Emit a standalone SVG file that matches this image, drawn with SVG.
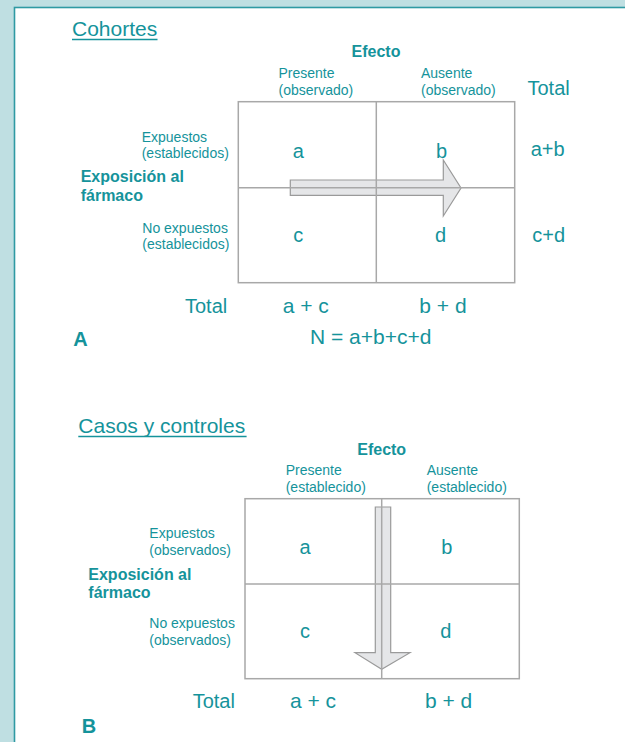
<svg xmlns="http://www.w3.org/2000/svg" width="625" height="742" viewBox="0 0 625 742">
<style>
text{font-family:"Liberation Sans",Arial,sans-serif;fill:#15939b}
.t{font-size:21px}
.s{font-size:14px}
.b{font-weight:bold;font-size:16px}
.v{font-size:20px}
.m{text-anchor:middle}
.grid{fill:none;stroke:#a8a8a8;stroke-width:1.5}
.arr{fill:#e5e6e8;stroke:#9a9a9a;stroke-width:1.2}
.ul{stroke:#15939b;stroke-width:1.3}
</style>
<rect x="0" y="0" width="625" height="742" fill="#bfdfe2"/>
<rect x="14.5" y="7.5" width="620" height="740" fill="#ffffff" stroke="#2f9aa3" stroke-width="1.6"/>

<g id="panelA">
  <g id="titleA">
    <text class="t" x="72" y="36">Cohortes</text>
    <line class="ul" x1="72" y1="39.5" x2="157.5" y2="39.5"/>
  </g>
  <g id="headerA">
    <text class="b m" x="376" y="57">Efecto</text>
    <text class="s" x="278.5" y="77.5">Presente</text>
    <text class="s" x="278.5" y="94.5">(observado)</text>
    <text class="s" x="421" y="77.5">Ausente</text>
    <text class="s" x="421" y="94.5">(observado)</text>
    <text class="v" x="527.5" y="95">Total</text>
  </g>
  <g id="rowsA">
    <text class="s" x="141.7" y="141.5">Expuestos</text>
    <text class="s" x="141.7" y="157.5">(establecidos)</text>
    <text class="b" x="80.7" y="182.3">Exposición al</text>
    <text class="b" x="80.7" y="201">fármaco</text>
    <text class="s" x="142.3" y="232.5">No expuestos</text>
    <text class="s" x="142.3" y="248.5">(establecidos)</text>
  </g>
  <g id="arrowA">
    <path class="arr" d="M290.3,180 H443.3 V160 L461,188 L443.3,216 V195.3 H290.3 Z"/>
  </g>
  <g id="tableA">
    <rect class="grid" x="238.3" y="101.7" width="276.4" height="181"/>
    <line class="grid" x1="238.3" y1="187.7" x2="514.7" y2="187.7"/>
    <line class="grid" x1="376.3" y1="101.7" x2="376.3" y2="282.7"/>
    <text class="v m" x="298.3" y="158.3">a</text>
    <text class="v m" x="441.5" y="158.3">b</text>
    <text class="v m" x="298.3" y="241.7">c</text>
    <text class="v m" x="440.5" y="241.7">d</text>
    <text class="v" x="530.7" y="156">a+b</text>
    <text class="v" x="532.3" y="241.7">c+d</text>
  </g>
  <g id="totalsA">
    <text class="v" x="185" y="313.3">Total</text>
    <text class="t" x="282.7" y="313.3">a + c</text>
    <text class="t" x="419.3" y="313.3">b + d</text>
    <text class="v" x="310" y="344.3" style="font-size:21px">N = a+b+c+d</text>
    <text class="v" x="73.3" y="345.7" style="font-weight:bold">A</text>
  </g>
</g>

<g id="panelB">
  <g id="titleB">
    <text class="t" x="78.3" y="433.3">Casos y controles</text>
    <line class="ul" x1="78.3" y1="436.5" x2="246.6" y2="436.5"/>
  </g>
  <g id="headerB">
    <text class="b m" x="381.7" y="455">Efecto</text>
    <text class="s" x="285.7" y="475">Presente</text>
    <text class="s" x="285.7" y="491.5">(establecido)</text>
    <text class="s" x="426.7" y="475">Ausente</text>
    <text class="s" x="426.7" y="491.5">(establecido)</text>
  </g>
  <g id="rowsB">
    <text class="s" x="149.3" y="538.3">Expuestos</text>
    <text class="s" x="149.3" y="554.5">(observados)</text>
    <text class="b" x="88.3" y="580">Exposición al</text>
    <text class="b" x="88.3" y="597.5">fármaco</text>
    <text class="s" x="149.3" y="628.3">No expuestos</text>
    <text class="s" x="149.3" y="644.8">(observados)</text>
  </g>
  <g id="arrowB">
    <path class="arr" d="M375.3,507 H390.7 V652.7 H410 L381.7,669.3 L355,652.7 H375.3 Z"/>
  </g>
  <g id="tableB">
    <rect class="grid" x="245" y="498.7" width="274.3" height="180"/>
    <line class="grid" x1="245" y1="584" x2="519.3" y2="584"/>
    <line class="grid" x1="381.7" y1="498.7" x2="381.7" y2="678.7"/>
    <text class="v m" x="305" y="554.3">a</text>
    <text class="v m" x="446.7" y="554.3">b</text>
    <text class="v m" x="305" y="637.7">c</text>
    <text class="v m" x="445.7" y="637.7">d</text>
  </g>
  <g id="totalsB">
    <text class="v" x="192.7" y="708.3">Total</text>
    <text class="t" x="290" y="708.3">a + c</text>
    <text class="t" x="425" y="708.3">b + d</text>
    <text class="v" x="81.7" y="732.7" style="font-weight:bold">B</text>
  </g>
</g>
</svg>
